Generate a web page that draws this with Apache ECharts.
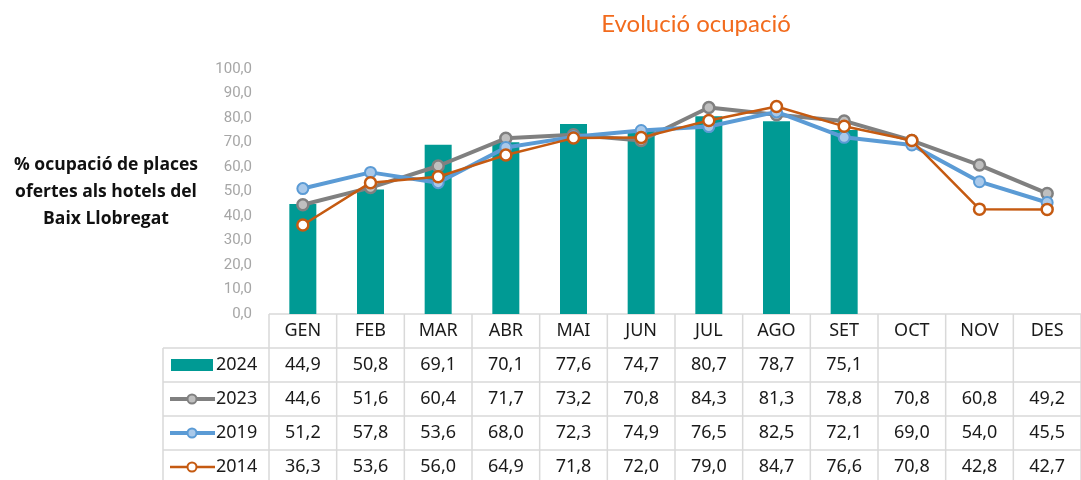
<!DOCTYPE html>
<html><head><meta charset="utf-8">
<script src="https://cdn.jsdelivr.net/npm/echarts@6/dist/echarts.min.js"></script>
<style>html,body{margin:0;padding:0;background:#fff}#c{width:1081px;height:480px}</style>
</head><body><div id="c"></div>
<script>
const categories = ['GEN','FEB','MAR','ABR','MAI','JUN','JUL','AGO','SET','OCT','NOV','DES'];
const s2024 = [44.9,50.8,69.1,70.1,77.6,74.7,80.7,78.7,75.1,null,null,null];
const s2023 = [44.6,51.6,60.4,71.7,73.2,70.8,84.3,81.3,78.8,70.8,60.8,49.2];
const s2019 = [51.2,57.8,53.6,68.0,72.3,74.9,76.5,82.5,72.1,69.0,54.0,45.5];
const s2014 = [36.3,53.6,56.0,64.9,71.8,72.0,79.0,84.7,76.6,70.8,42.8,42.7];
const seriesNames = ['2024','2023','2019','2014'];
const yTicks = {min:0,max:100,interval:10};

const C = {bar:'#009a94', g:'#808080', gFill:'#bfbfbf', b:'#5b9bd5', bFill:'#a9c9ea', o:'#c55a11', oFill:'#ffffff'};
const chart = echarts.init(document.getElementById('c'));
const fmt = v => v==null ? '' : v.toFixed(1).replace('.', ',');
const grid = {left:269, right:0, top:69, bottom:166};
chart.setOption({
  animation:false,
  title:{text:'Evolució ocupació', left:691, top:7, textAlign:'center',
    textStyle:{color:'#f26b1d', fontSize:24, fontWeight:'normal', fontFamily:'Lato'}},
  grid:grid,
  xAxis:{type:'category', data:categories, axisLine:{show:false}, axisTick:{show:false}, axisLabel:{show:false}},
  yAxis:{type:'value', min:yTicks.min, max:yTicks.max, interval:yTicks.interval,
    splitLine:{show:false}, axisLine:{show:false}, axisTick:{show:false},
    axisLabel:{formatter:fmt, color:'#a6a6a6', fontSize:15, fontFamily:'Roboto', margin:17}},
  series:[
    {name:seriesNames[0], type:'bar', data:s2024, barWidth:27, itemStyle:{color:C.bar}},
    {name:seriesNames[1], type:'line', data:s2023, symbol:'circle', symbolSize:11, z:3,
      lineStyle:{color:C.g, width:4}, itemStyle:{color:C.gFill, borderColor:C.g, borderWidth:2.5}},
    {name:seriesNames[2], type:'line', data:s2019, symbol:'circle', symbolSize:11, z:4,
      lineStyle:{color:C.b, width:4}, itemStyle:{color:C.bFill, borderColor:C.b, borderWidth:2}},
    {name:seriesNames[3], type:'line', data:s2014, symbol:'circle', symbolSize:11, z:5,
      lineStyle:{color:C.o, width:2.5}, itemStyle:{color:C.oFill, borderColor:C.o, borderWidth:2.5}}
  ]
});

// data table below the plot
const x0 = chart.convertToPixel({xAxisIndex:0}, 0);
const x1 = chart.convertToPixel({xAxisIndex:0}, 1);
const band = x1 - x0;
const yTop = chart.convertToPixel({yAxisIndex:0}, 0);
const rowH = 34;
const tableLeft = 163;
const plotLeft = x0 - band/2;
const plotRight = plotLeft + band*categories.length;
const lineC = '#d9d9d9';
const g = [];
const fontT = '18px "Noto Sans"';
const L = (x1_, y1_, x2_, y2_) => g.push({type:'line', shape:{x1:x1_,y1:y1_,x2:x2_,y2:y2_}, style:{stroke:lineC, lineWidth:1.5}, silent:true});
const nRows = 1 + seriesNames.length;
const bottom = yTop + rowH*nRows;
L(plotLeft, yTop, plotRight, yTop);
for (let r=1;r<=nRows;r++) L(tableLeft, yTop+rowH*r, plotRight, yTop+rowH*r);
L(tableLeft, yTop+rowH, tableLeft, bottom);
for (let c=0;c<=categories.length;c++) L(plotLeft+band*c, yTop, plotLeft+band*c, bottom);
categories.forEach((cat,i)=>{
  g.push({type:'text', x:chart.convertToPixel({xAxisIndex:0}, i), y:yTop+rowH/2,
    style:{text:cat, font:fontT, fill:'#1a1a1a', align:'center', verticalAlign:'middle'}});
});
const allData = [s2024,s2023,s2019,s2014];
const legendCol = [C.bar, C.g, C.b, C.o];
const fills = [null, C.gFill, C.bFill, C.oFill];
allData.forEach((arr,r)=>{
  const cy = yTop + rowH*(r+1) + rowH/2;
  arr.forEach((v,i)=>{
    g.push({type:'text', x:chart.convertToPixel({xAxisIndex:0}, i), y:cy,
      style:{text:fmt(v), font:fontT, fill:'#1a1a1a', align:'center', verticalAlign:'middle'}});
  });
  if (r===0) {
    g.push({type:'rect', shape:{x:171, y:cy-6, width:42, height:12}, style:{fill:C.bar}});
  } else {
    g.push({type:'line', shape:{x1:170,y1:cy,x2:215,y2:cy}, style:{stroke:legendCol[r], lineWidth:r===3?2.5:4}});
    g.push({type:'circle', shape:{cx:192,cy:cy,r:4.5}, style:{fill:fills[r], stroke:legendCol[r], lineWidth:2}});
  }
  g.push({type:'text', x:216, y:cy, style:{text:seriesNames[r], font:fontT, fill:'#1a1a1a', align:'left', verticalAlign:'middle'}});
});
g.push({type:'text', x:106, y:192, style:{text:'% ocupació de places\nofertes als hotels del\nBaix Llobregat',
  font:'bold 17.5px "Open Sans"', fill:'#111', align:'center', verticalAlign:'middle', lineHeight:27}});
chart.setOption({graphic:{elements:g}});
</script></body></html>
